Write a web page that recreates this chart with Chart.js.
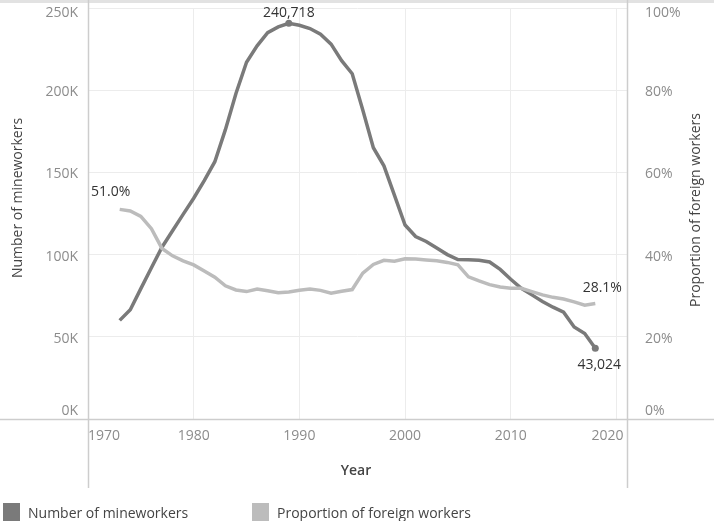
<!DOCTYPE html>
<html lang="en">
<head>
    <meta charset="UTF-8">
    <title>Mineworkers and foreign workers</title>
    <script src="https://cdn.jsdelivr.net/npm/chart.js"></script>
    <style>
        body {
            margin: 0;
            background: #fff;
            font-family: "Open Sans", sans-serif;
        }
        .wrap {
            position: relative;
            width: 714px;
            height: 521px;
            overflow: hidden;
        }
        .legend-item {
            position: absolute;
            top: 503px;
            font-size: 14px;
            color: #444;
            white-space: nowrap;
        }
        .legend-item span {
            display: inline-block;
            width: 17px;
            height: 18px;
            vertical-align: top;
            margin-right: 8px;
        }
    </style>
</head>
<body>
    <div class="wrap">
        <canvas id="mineChart" width="714" height="521"></canvas>
        <div class="legend-item" style="left:3px"><span style="background:#7a7a7a"></span>Number of mineworkers</div>
        <div class="legend-item" style="left:252px"><span style="background:#bcbcbc"></span>Proportion of foreign workers</div>
    </div>

    <script>
        const years = [
            1973, 1974, 1975, 1976, 1977, 1978, 1979, 1980, 1981, 1982,
            1983, 1984, 1985, 1986, 1987, 1988, 1989, 1990, 1991, 1992,
            1993, 1994, 1995, 1996, 1997, 1998, 1999, 2000, 2001, 2002,
            2003, 2004, 2005, 2006, 2007, 2008, 2009, 2010, 2011, 2012,
            2013, 2014, 2015, 2016, 2017, 2018
        ];
        const mineworkers = [
            60000, 66500, 79300, 92000, 104500, 114500, 124500, 134300, 145000, 156500,
            176000, 198000, 217000, 227000, 235000, 238500, 240718, 239500, 237500, 234000,
            228000, 218000, 210000, 188000, 165000, 154000, 136000, 118000, 111000, 108000,
            104000, 100000, 97000, 96800, 96500, 95500, 91000, 85000, 79500, 75500,
            71500, 68000, 65000, 56000, 52000, 43024
        ];
        const foreignShare = [
            51.0, 50.6, 49.3, 46.3, 41.5, 39.7, 38.5, 37.5, 36.0, 34.5,
            32.4, 31.4, 31.0, 31.6, 31.2, 30.7, 30.9, 31.3, 31.6, 31.3,
            30.6, 31.1, 31.5, 35.5, 37.6, 38.6, 38.4, 39.0, 38.9, 38.7,
            38.5, 38.1, 37.5, 34.6, 33.6, 32.7, 32.1, 31.8, 31.8, 31.0,
            30.2, 29.6, 29.2, 28.5, 27.7, 28.1
        ];
        const yearTicks = [1970, 1980, 1990, 2000, 2010, 2020];

        const peakIdx = mineworkers.indexOf(Math.max(...mineworkers));
        const lastIdx = years.length - 1;

        const tickFont = { family: 'Open Sans', size: 14 };
        const tickColor = '#8c8c8c';
        const gridColor = '#ececec';

        // nudge tick labels the way the original tool places them
        // (edge labels pulled inside, others a little below the gridline)
        const nudgeTicks = {
            id: 'nudgeTicks',
            beforeDraw(chart) {
                ['y', 'y1'].forEach(id => {
                    const items = chart.scales[id].getLabelItems();
                    items.forEach((it, i) => {
                        if (it._nudged) return;
                        const t = it.options.translation;
                        if (i === 0) t[1] -= 8;
                        else if (i === items.length - 1) t[1] += 5;
                        else t[1] += 2;
                        it._nudged = true;
                    });
                });
                const xItems = chart.scales.x.getLabelItems();
                const lastX = xItems[xItems.length - 1];
                if (lastX && !lastX._nudged) {
                    lastX.options.translation[0] += 7;
                    lastX._nudged = true;
                }
            }
        };

        // frame lines, axis titles and the end labels
        const decor = {
            id: 'decor',
            beforeDatasetsDraw(chart) {
                const { ctx, chartArea } = chart;
                ctx.save();
                ctx.strokeStyle = '#e2e2e2';
                ctx.lineWidth = 3;
                ctx.beginPath();
                ctx.moveTo(0, 1.5);
                ctx.lineTo(714, 1.5);
                ctx.stroke();
                ctx.strokeStyle = '#cdcdcd';
                ctx.lineWidth = 1.5;
                ctx.beginPath();
                ctx.moveTo(0, chartArea.bottom + 0.5);
                ctx.lineTo(714, chartArea.bottom + 0.5);
                ctx.moveTo(chartArea.left + 0.5, 0);
                ctx.lineTo(chartArea.left + 0.5, 488);
                ctx.moveTo(chartArea.right + 0.5, 0);
                ctx.lineTo(chartArea.right + 0.5, 488);
                ctx.stroke();

                ctx.fillStyle = '#444';
                ctx.font = '14px "Open Sans"';
                ctx.textAlign = 'center';
                ctx.textBaseline = 'middle';
                ctx.save();
                ctx.translate(18, 198);
                ctx.rotate(-Math.PI / 2);
                ctx.fillText('Number of mineworkers', 0, 0);
                ctx.restore();
                ctx.save();
                ctx.translate(696, 210);
                ctx.rotate(-Math.PI / 2);
                ctx.fillText('Proportion of foreign workers', 0, 0);
                ctx.restore();
                ctx.font = '600 14px "Open Sans"';
                ctx.fillText('Year', 356, 471);
                ctx.restore();
            },
            afterDatasetsDraw(chart) {
                const { ctx } = chart;
                const dark = chart.getDatasetMeta(0).data;
                const light = chart.getDatasetMeta(1).data;
                ctx.save();
                ctx.fillStyle = '#333';
                ctx.font = '14px "Open Sans"';
                ctx.textAlign = 'center';
                ctx.textBaseline = 'middle';
                const fmt = v => v.toLocaleString('en-US');
                ctx.fillText(fmt(mineworkers[peakIdx]), dark[peakIdx].x, dark[peakIdx].y - 10);
                ctx.fillText(fmt(mineworkers[lastIdx]), dark[lastIdx].x + 4, dark[lastIdx].y + 17);
                ctx.fillText(foreignShare[0].toFixed(1) + '%', light[0].x - 9, light[0].y - 17);
                ctx.fillText(foreignShare[lastIdx].toFixed(1) + '%', light[lastIdx].x + 7, light[lastIdx].y - 15);
                ctx.restore();
            }
        };

        const noPad = s => { s.paddingTop = 0; s.paddingBottom = 0; };

        const ctx = document.getElementById('mineChart').getContext('2d');
        new Chart(ctx, {
            type: 'line',
            data: {
                datasets: [{
                    label: 'Number of mineworkers',
                    data: years.map((y, i) => ({ x: y, y: mineworkers[i] })),
                    yAxisID: 'y',
                    borderColor: '#7a7a7a',
                    backgroundColor: '#7a7a7a',
                    borderWidth: 3.5,
                    tension: 0,
                    order: 1,
                    pointRadius: years.map((y, i) => (i === peakIdx || i === lastIdx) ? 3.5 : 0),
                    pointBorderWidth: 0
                }, {
                    label: 'Proportion of foreign workers',
                    data: years.map((y, i) => ({ x: y, y: foreignShare[i] })),
                    yAxisID: 'y1',
                    borderColor: '#bcbcbc',
                    backgroundColor: '#bcbcbc',
                    borderWidth: 3.5,
                    tension: 0,
                    order: 0,
                    pointRadius: 0
                }]
            },
            options: {
                responsive: false,
                animation: false,
                devicePixelRatio: 1,
                layout: { padding: { top: 8, bottom: 33, left: 0, right: 0 } },
                plugins: {
                    legend: { display: false },
                    tooltip: { enabled: false }
                },
                scales: {
                    x: {
                        type: 'linear',
                        min: 1970,
                        max: 2021,
                        afterFit: s => { s.height = 69; s.paddingLeft = 0; s.paddingRight = 0; },
                        afterBuildTicks: s => { s.ticks = yearTicks.map(v => ({ value: v })); },
                        ticks: {
                            font: tickFont,
                            color: tickColor,
                            padding: 9,
                            align: 'inner',
                            maxRotation: 0,
                            callback: v => String(v)
                        },
                        grid: { color: gridColor, drawTicks: false },
                        border: { display: false }
                    },
                    y: {
                        position: 'left',
                        min: 0,
                        max: 250000,
                        afterFit: s => { s.width = 88; noPad(s); },
                        ticks: {
                            stepSize: 50000,
                            font: tickFont,
                            color: tickColor,
                            padding: 10,
                            callback: v => (v / 1000) + 'K'
                        },
                        grid: { color: gridColor, drawTicks: false },
                        border: { display: false }
                    },
                    y1: {
                        position: 'right',
                        min: 0,
                        max: 100,
                        afterFit: s => { s.width = 87; noPad(s); },
                        ticks: {
                            stepSize: 20,
                            font: tickFont,
                            color: tickColor,
                            padding: 10,
                            callback: v => v + '%'
                        },
                        grid: { display: false },
                        border: { display: false }
                    }
                }
            },
            plugins: [nudgeTicks, decor]
        });
    </script>
</body>
</html>
